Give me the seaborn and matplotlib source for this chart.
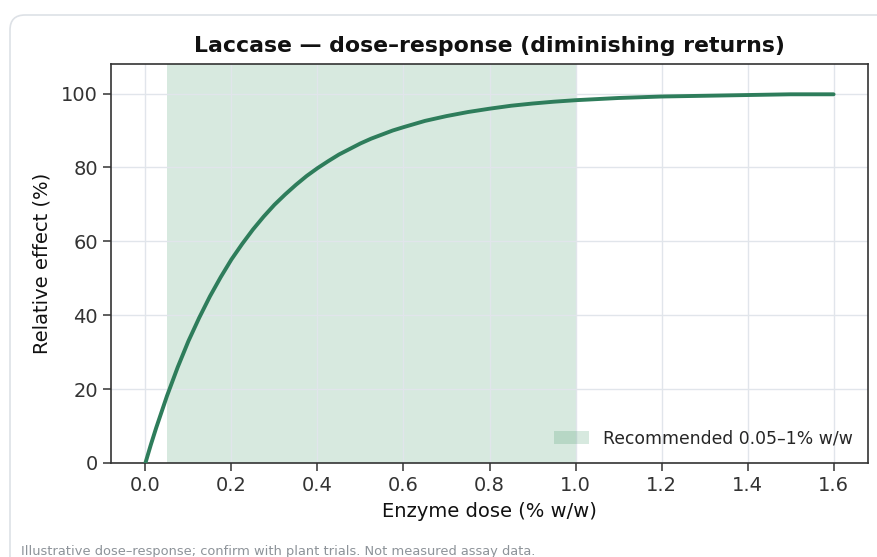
import matplotlib
matplotlib.use("Agg")
import matplotlib.pyplot as plt
from matplotlib.patches import FancyBboxPatch, Patch
from matplotlib.transforms import IdentityTransform
import seaborn as sns
import pandas as pd

# Data
dose = [0.0, 0.0125, 0.025, 0.05, 0.075, 0.1, 0.125, 0.15, 0.175, 0.2, 0.225, 0.25, 0.275,
        0.3, 0.325, 0.35, 0.375, 0.4, 0.425, 0.45, 0.475, 0.5, 0.525, 0.55, 0.575, 0.6,
        0.65, 0.7, 0.75, 0.8, 0.85, 0.9, 0.95, 1.0, 1.05, 1.1, 1.15, 1.2, 1.3, 1.4, 1.5, 1.6]
effect = [0.0, 4.9, 9.5, 18.1, 25.9, 33.0, 39.3, 45.1, 50.3, 55.1, 59.3, 63.2, 66.7,
          69.9, 72.7, 75.3, 77.7, 79.8, 81.7, 83.5, 85.0, 86.5, 87.8, 88.9, 90.0, 90.9,
          92.6, 93.9, 95.0, 95.9, 96.7, 97.3, 97.8, 98.2, 98.5, 98.8, 99.0, 99.2, 99.4,
          99.6, 99.8, 99.8]
rec_low, rec_high = 0.05, 1.0
rec_label = "Recommended 0.05\u20131% w/w"
title = "Laccase \u2014 dose\u2013response (diminishing returns)"
xlabel = "Enzyme dose (% w/w)"
ylabel = "Relative effect (%)"
note = "Illustrative dose\u2013response; confirm with plant trials. Not measured assay data."
xticks = [0.0, 0.2, 0.4, 0.6, 0.8, 1.0, 1.2, 1.4, 1.6]
yticks = [0, 20, 40, 60, 80, 100]

sns.set_theme(style="whitegrid")
plt.rcParams['font.family'] = ['DejaVu Sans']

df = pd.DataFrame({"dose": dose, "effect": effect})

W, H = 878, 557
fig = plt.figure(figsize=(W / 100, H / 100), dpi=100)
fig.patch.set_facecolor("white")

card = FancyBboxPatch((10, -60), 1000, (H - 15) + 60,
                      boxstyle="round,pad=0,rounding_size=15",
                      transform=IdentityTransform(), facecolor="none",
                      edgecolor="#dde1e6", linewidth=1.2, zorder=-5)
fig.patches.append(card)

span_rgba = (46 / 255, 139 / 255, 87 / 255, 0.19)

ax = fig.add_axes([111 / W, 1 - 463 / H, (868 - 111) / W, (463 - 64) / H])
ax.set_facecolor("white")
ax.axvspan(rec_low, rec_high, facecolor=span_rgba, edgecolor="none", lw=0, zorder=0)
sns.lineplot(data=df, x="dose", y="effect", ax=ax, color="#2e7d5b", linewidth=2.8,
             zorder=3, legend=False)

ax.set_xlim(-0.08, 1.68)
ax.set_ylim(0, 108)
ax.set_xticks(xticks)
ax.set_xticklabels([f"{t:.1f}" for t in xticks])
ax.set_yticks(yticks)
ax.grid(True, color="#e1e5eb", linewidth=1.0)
ax.set_axisbelow(True)
for s in ax.spines.values():
    s.set_color("#333333")
    s.set_linewidth(1.2)
ax.tick_params(axis="both", which="major", labelsize=14, colors="#333333",
               length=6, width=1.1, bottom=True, left=True, direction="out")
ax.set_xlabel(xlabel, fontsize=14, color="#111111", labelpad=5)
ax.set_ylabel(ylabel, fontsize=14, color="#111111", labelpad=7)
ax.set_title(title, fontsize=15.8, fontweight="bold", color="#111111", pad=9)

handle = Patch(facecolor=span_rgba, edgecolor="none", linewidth=0)
leg = ax.legend([handle], [rec_label], loc="lower right", frameon=False, fontsize=12.4,
                handlelength=2.0, borderaxespad=0.5)

fig.text(21 / W, 1 - 551 / H, note, fontsize=9.4, color="#8d9399", ha="left", va="center")

fig.savefig("out.png", dpi=100, facecolor="white")
